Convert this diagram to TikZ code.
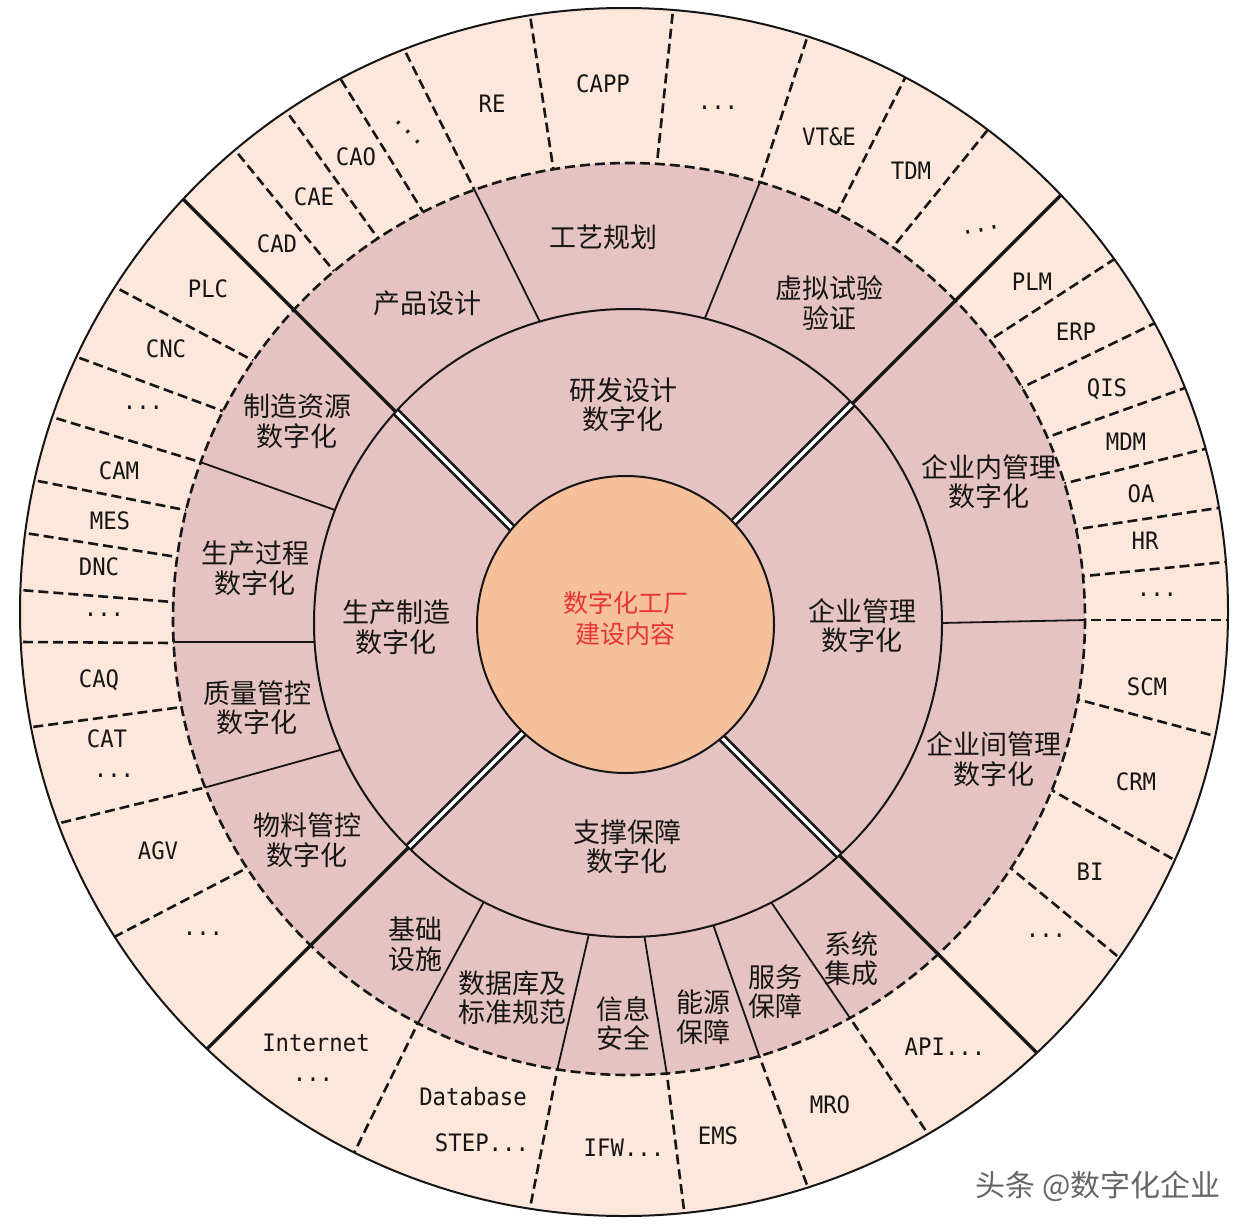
\documentclass[tikz,border=0pt]{standalone}
\usepackage{fontspec}
\newfontfamily\zhfont{Noto Sans CJK SC}
\newfontfamily\monof[FakeStretch=0.93]{DejaVu Sans Mono}
\definecolor{peach}{RGB}{252,231,218}
\definecolor{pinkr}{RGB}{229,195,194}
\definecolor{orng}{RGB}{246,192,155}
\definecolor{redt}{RGB}{228,52,56}
\definecolor{ink}{RGB}{22,22,22}
\begin{document}
\begin{tikzpicture}[x=1pt,y=-1pt,
  dsh/.style={draw=ink,line width=2.6pt,dash pattern=on 10pt off 5pt},
  ext/.style={shorten <=-25pt,shorten >=-25pt},
  sub/.style={draw=ink,line width=1.8pt},
  thick diag/.style={draw=ink,line width=3.4pt},
  dbl diag/.style={draw=ink,line width=2.6pt,double=white,double distance=3.4pt},
  zh/.style={font=\zhfont\fontsize{27}{29.5}\selectfont,align=center,inner sep=0pt,text=ink},
  ctr/.style={font=\zhfont\fontsize{25}{31}\selectfont,align=center,inner sep=0pt,text=redt},
  en/.style={font=\monof\fontsize{24}{28}\selectfont,inner sep=0pt,text=ink},
  wm/.style={font=\zhfont\fontsize{30}{34}\selectfont,inner sep=0pt,text=black!60}
]
\fill[white] (0,0) rectangle (1258,1228);
\useasboundingbox (0,0) rectangle (1258,1228);
% ---------- outer ring ----------
\fill[peach] (624,612) circle (604);
\begin{scope}
\clip (624,612) circle (604);
\foreach \ax/\ay/\bx/\by in {
  333/270/235/150, 377/237/287/112, 420/207/340/78, 473/187/403/47,
  553/167/530/15, 657/163/673/10, 760/182/807/38, 840/207/903/82,
  893/247/986/132, 990/340/1113/260, 1023/387/1155/323, 1048/437/1185/388,
  1066/483/1205/449, 1078/529/1218/508, 1085/576/1225/562, 1086/620/1226/620,
  1080/700/1211/735, 1055/792/1171/858, 1013/870/1116/955, 850/1018/926/1131,
  760/1058/807/1185, 667/1075/685/1218, 557/1071/530/1208, 417/1025/355/1151,
  247/868/118/935, 207/787/60/823, 182/707/25/728, 173/643/20/642,
  173/602/20/590, 177/557/25/533, 185/510/33/480, 200/462/52/417,
  220/410/77/357, 252/360/115/287}
  \draw[dsh,ext] (\ax,\ay) -- (\bx,\by);
\end{scope}
% ---------- middle ring ----------
\fill[pinkr] (629,619) circle (456);
\draw[dsh] (629,619) circle (456);
\begin{scope}
\clip (629,619) circle (456);
\foreach \ax/\ay/\bx/\by in {
  540/322/473/187, 705/318/760/182, 335/510/200/462, 315/642/173/642,
  340/750/207/787, 482/905/417/1025, 588/938/557/1071, 645/940/667/1075,
  715/930/760/1058, 773/905/850/1018, 941/623/1086/620}
  \draw[sub,ext] (\ax,\ay) -- (\bx,\by);
\end{scope}
% ---------- thick diagonals ----------
\begin{scope}
\clip (624,612) circle (604);
\draw[thick diag] (120,136) -- (1120,1136);
\draw[thick diag] (1120,136) -- (120,1136);
\end{scope}
% ---------- inner ring ----------
\fill[pinkr] (628,623) circle (314);
\begin{scope}
\clip (628,623) circle (314);
\draw[dbl diag] (120,136) -- (1120,1136);
\draw[dbl diag] (1120,136) -- (120,1136);
\end{scope}
\draw[ink,line width=2pt] (628,623) circle (314);
% ---------- centre ----------
\draw[ink,line width=2pt,fill=orng] (625.5,624.5) circle (148.5);
\draw[ink,line width=2pt] (624,612) circle (604);
% ---------- texts: centre and inner ring ----------
\node[ctr] (core) at (625.5,618.5) {数字化工厂\\建设内容};
\node[zh] (rd) at (623,404.5) {研发设计\\数字化};
\node[zh] (mf) at (396,627.5) {生产制造\\数字化};
\node[zh] (em) at (862,625.5) {企业管理\\数字化};
\node[zh] (sp) at (627,846.5) {支撑保障\\数字化};
% ---------- texts: middle ring ----------
\node[zh] (s1) at (427,303) {产品设计};
\node[zh] (s2) at (603,237) {工艺规划};
\node[zh] (s3) at (829,303) {虚拟试验\\验证};
\node[zh] (s4) at (297,421.5) {制造资源\\数字化};
\node[zh] (s5) at (255,568.5) {生产过程\\数字化};
\node[zh] (s6) at (257,707.5) {质量管控\\数字化};
\node[zh] (s7) at (307,840) {物料管控\\数字化};
\node[zh] (s8) at (415,944.5) {基础\\设施};
\node[zh] (s9) at (512,997.5) {数据库及\\标准规范};
\node[zh] (s10) at (623,1023.5) {信息\\安全};
\node[zh] (s11) at (703,1017) {能源\\保障};
\node[zh] (s12) at (775,991.5) {服务\\保障};
\node[zh] (s13) at (851,959) {系统\\集成};
\node[zh] (s14) at (989,481.5) {企业内管理\\数字化};
\node[zh] (s15) at (994,759) {企业间管理\\数字化};
% ---------- texts: outer ring ----------
\node[en] (o1) at (492,104) {RE};
\node[en] (o2) at (603,84) {CAPP};
\node[en] (o3) at (718,108) {...};
\node[en] (o4) at (829,137) {VT\&E};
\node[en] (o5) at (911,171) {TDM};
\node[en,rotate=12] (o6) at (981,230) {...};
\node[en] (o7) at (1032,282) {PLM};
\node[en] (o8) at (1076,332) {ERP};
\node[en] (o9) at (1107,389) {QIS};
\node[en] (o10) at (1126,442) {MDM};
\node[en] (o11) at (1141,494) {OA};
\node[en] (o12) at (1145,541) {HR};
\node[en] (o13) at (1157,595) {...};
\node[en] (o14) at (1147,687) {SCM};
\node[en] (o15) at (1136,782) {CRM};
\node[en] (o16) at (1090,872) {BI};
\node[en] (o17) at (1046,936) {...};
\node[en] (o18) at (945,1047) {API...};
\node[en] (o19) at (830,1105) {MRO};
\node[en] (o20) at (718,1136) {EMS};
\node[en] (o21) at (624,1148) {IFW...};
\node[en] (o22) at (473,1097) {Database};
\node[en] (o23) at (482,1143) {STEP...};
\node[en] (o24) at (316,1043) {Internet};
\node[en] (o25) at (313,1080) {...};
\node[en] (o26) at (203,934) {...};
\node[en] (o27) at (158,851) {AGV};
\node[en] (o28) at (107,739) {CAT};
\node[en] (o29) at (114,776) {...};
\node[en] (o30) at (99,680) {CAQ};
\node[en] (o31) at (104,615) {...};
\node[en] (o32) at (99,567) {DNC};
\node[en] (o33) at (110,521) {MES};
\node[en] (o34) at (119,471) {CAM};
\node[en] (o35) at (143,408) {...};
\node[en] (o36) at (166,349) {CNC};
\node[en] (o37) at (208,289) {PLC};
\node[en] (o38) at (277,244) {CAD};
\node[en] (o39) at (314,197) {CAE};
\node[en] (o40) at (356,157) {CAO};
\node[en,rotate=-45] (o41) at (408,132) {...};
% ---------- watermark ----------
\node[wm] (wmk) at (1098,1186) {头条 @数字化企业};
\end{tikzpicture}
\end{document}
